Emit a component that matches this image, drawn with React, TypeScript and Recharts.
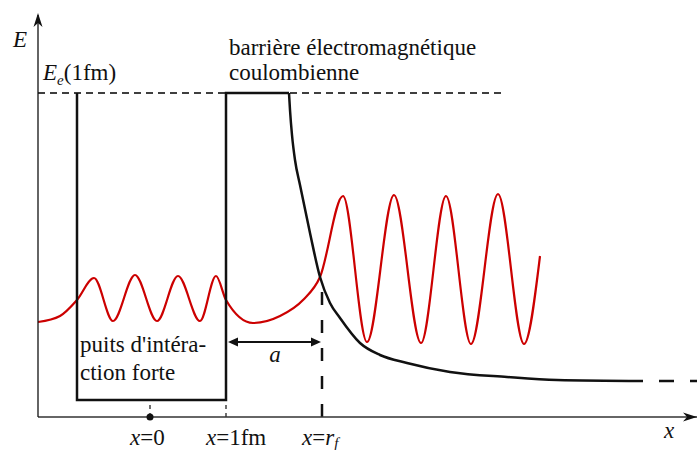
import React from "react";
import {
  ComposedChart,
  Line,
  XAxis,
  YAxis,
  ReferenceLine,
  ReferenceDot,
} from "recharts";

// schematic units: x measured along the axis from the corner, E above the x axis
const wellX = [39, 39, 188, 188, 251];
const wellE = [324, 17, 17, 324, 324];

const coulombX = [251, 252, 254, 257, 262, 272, 282, 292, 302, 322, 342, 369, 412, 469, 519, 605];
const coulombE = [324, 307, 282, 257, 232, 184, 140, 114, 99, 74, 62, 54, 45, 40, 37, 36];

const tailX = [621, 659];
const tailE = [36, 36];

const levelX = [0, 467];
const levelE = [324, 324];

const psiX = [0, 22, 39, 56, 75, 97, 119, 140, 162, 178, 188, 215, 242, 265, 282, 305, 329, 356, 383, 408, 433, 460, 486, 502];
const psiE = [95, 101, 117, 139, 96, 142, 96, 141, 96, 141, 117, 94, 101, 117, 140, 221, 75, 222, 74, 221, 73, 223, 73, 161];

const tickValues = [112, 188, 284];
const rfX = 284;
const rfTop = 127;
const wellBottom = 17;
const aLevel = 75;

const toRows = (xs: number[], es: number[]) => xs.map((x, i) => ({ x, e: es[i] }));

const FONT = "'Liberation Serif', 'Times New Roman', 'DejaVu Serif', serif";
const INK = "#111";
const RED = "#cc0000";

const Note = ({ cx, cy, dx = 0, anchor = "start", children }: any) => (
  <text x={cx + dx} y={cy} textAnchor={anchor} style={{ fontFamily: FONT, fontSize: 23 }} fill={INK}>
    {children}
  </text>
);

const TickLabel = (props: any) => {
  const { x, y, payload } = props;
  const i = tickValues.indexOf(payload.value);
  const it = { fontStyle: "italic" as const };
  return (
    <text x={x - 20} y={y + 28} style={{ fontFamily: FONT, fontSize: 23 }} fill={INK}>
      <tspan {...it}>x</tspan>
      <tspan>=</tspan>
      {i === 0 && <tspan>0</tspan>}
      {i === 1 && <tspan>1fm</tspan>}
      {i === 2 && (
        <>
          <tspan {...it}>r</tspan>
          <tspan {...it} fontSize={15} dy={3}>f</tspan>
        </>
      )}
    </text>
  );
};

const DoubleArrow = ({ x1, y1, x2, y2 }: any) => (
  <g>
    <line x1={x1 + 4} y1={y1} x2={x2 - 4} y2={y2} stroke={INK} strokeWidth={2} />
    <polygon points={`${x1},${y1} ${x1 + 10},${y1 - 4.5} ${x1 + 10},${y1 + 4.5}`} fill={INK} />
    <polygon points={`${x2},${y2} ${x2 - 10},${y2 - 4.5} ${x2 - 10},${y2 + 4.5}`} fill={INK} />
  </g>
);

const ArrowRight = ({ cx, cy }: any) => (
  <polygon points={`${cx},${cy} ${cx - 14},${cy - 4.5} ${cx - 10},${cy} ${cx - 14},${cy + 4.5}`} fill={INK} />
);

const ArrowUp = ({ cx, cy }: any) => (
  <polygon points={`${cx},${cy - 2} ${cx - 4.5},${cy + 12} ${cx},${cy + 8} ${cx + 4.5},${cy + 12}`} fill={INK} />
);

export default function App() {
  return (
    <div style={{ position: "absolute", left: 0, top: 0, background: "#fff" }}>
      <ComposedChart width={697} height={450} margin={{ top: 15, right: 0, bottom: 0, left: 0 }}>
        <XAxis
          type="number"
          dataKey="x"
          domain={[0, 659]}
          ticks={tickValues}
          interval={0}
          height={33}
          tickLine={false}
          tickSize={0}
          tickMargin={0}
          tick={<TickLabel />}
          axisLine={{ stroke: "#333", strokeWidth: 1.5 }}
          allowDataOverflow
        />
        <YAxis
          type="number"
          dataKey="e"
          domain={[0, 402]}
          width={38}
          tick={false}
          tickLine={false}
          axisLine={{ stroke: INK, strokeWidth: 1.3 }}
          allowDataOverflow
        />

        <Line data={toRows(levelX, levelE)} dataKey="e" type="linear" stroke="#000" strokeWidth={1.4} strokeDasharray="7 5" dot={false} isAnimationActive={false} />
        <Line data={toRows(psiX, psiE)} dataKey="e" type="monotone" stroke={RED} strokeWidth={2.2} dot={false} isAnimationActive={false} />
        <Line data={toRows(wellX, wellE)} dataKey="e" type="linear" stroke={INK} strokeWidth={2.5} dot={false} isAnimationActive={false} />
        <Line data={toRows(coulombX, coulombE)} dataKey="e" type="monotone" stroke={INK} strokeWidth={2.5} dot={false} isAnimationActive={false} />
        <Line data={toRows(tailX, tailE)} dataKey="e" type="linear" stroke={INK} strokeWidth={2.5} strokeDasharray="15 16" dot={false} isAnimationActive={false} />

        <ReferenceLine segment={[{ x: rfX, y: 0 }, { x: rfX, y: rfTop }]} stroke={INK} strokeWidth={2.5} strokeDasharray="13 15" ifOverflow="visible" />
        <ReferenceLine segment={[{ x: tickValues[0], y: 0 }, { x: tickValues[0], y: wellBottom }]} stroke={INK} strokeWidth={1.2} strokeDasharray="4 4" ifOverflow="visible" />
        <ReferenceLine segment={[{ x: tickValues[1], y: 0 }, { x: tickValues[1], y: wellBottom }]} stroke={INK} strokeWidth={1.2} strokeDasharray="4 4" ifOverflow="visible" />
        <ReferenceLine segment={[{ x: 190, y: aLevel }, { x: 283, y: aLevel }]} ifOverflow="visible" shape={(p: any) => <DoubleArrow {...p} />} />

        <ReferenceDot x={tickValues[0]} y={0} r={3.5} fill={INK} stroke="none" ifOverflow="visible" />
        <ReferenceDot x={659} y={0} ifOverflow="visible" shape={(p: any) => <ArrowRight {...p} />} />
        <ReferenceDot x={0} y={402} ifOverflow="visible" shape={(p: any) => <ArrowUp {...p} />} />

        <ReferenceDot x={0} y={370} ifOverflow="visible" shape={(p: any) => (
          <Note {...p} dx={-25}><tspan fontStyle="italic">E</tspan></Note>
        )} />
        <ReferenceDot x={5} y={337} ifOverflow="visible" shape={(p: any) => (
          <Note {...p}>
            <tspan fontStyle="italic">E</tspan>
            <tspan fontStyle="italic" fontSize={15} dy={5}>e</tspan>
            <tspan dy={-5}>(1fm)</tspan>
          </Note>
        )} />
        <ReferenceDot x={191} y={362} ifOverflow="visible" shape={(p: any) => <Note {...p}>barrière électromagnétique</Note>} />
        <ReferenceDot x={191} y={337} ifOverflow="visible" shape={(p: any) => <Note {...p}>coulombienne</Note>} />
        <ReferenceDot x={42} y={65} ifOverflow="visible" shape={(p: any) => <Note {...p}>puits d'intéra-</Note>} />
        <ReferenceDot x={42} y={37} ifOverflow="visible" shape={(p: any) => <Note {...p}>ction forte</Note>} />
        <ReferenceDot x={237} y={55} ifOverflow="visible" shape={(p: any) => (
          <Note {...p} anchor="middle"><tspan fontStyle="italic">a</tspan></Note>
        )} />
        <ReferenceDot x={626} y={-21} ifOverflow="visible" shape={(p: any) => (
          <Note {...p}><tspan fontStyle="italic">x</tspan></Note>
        )} />
      </ComposedChart>
    </div>
  );
}
